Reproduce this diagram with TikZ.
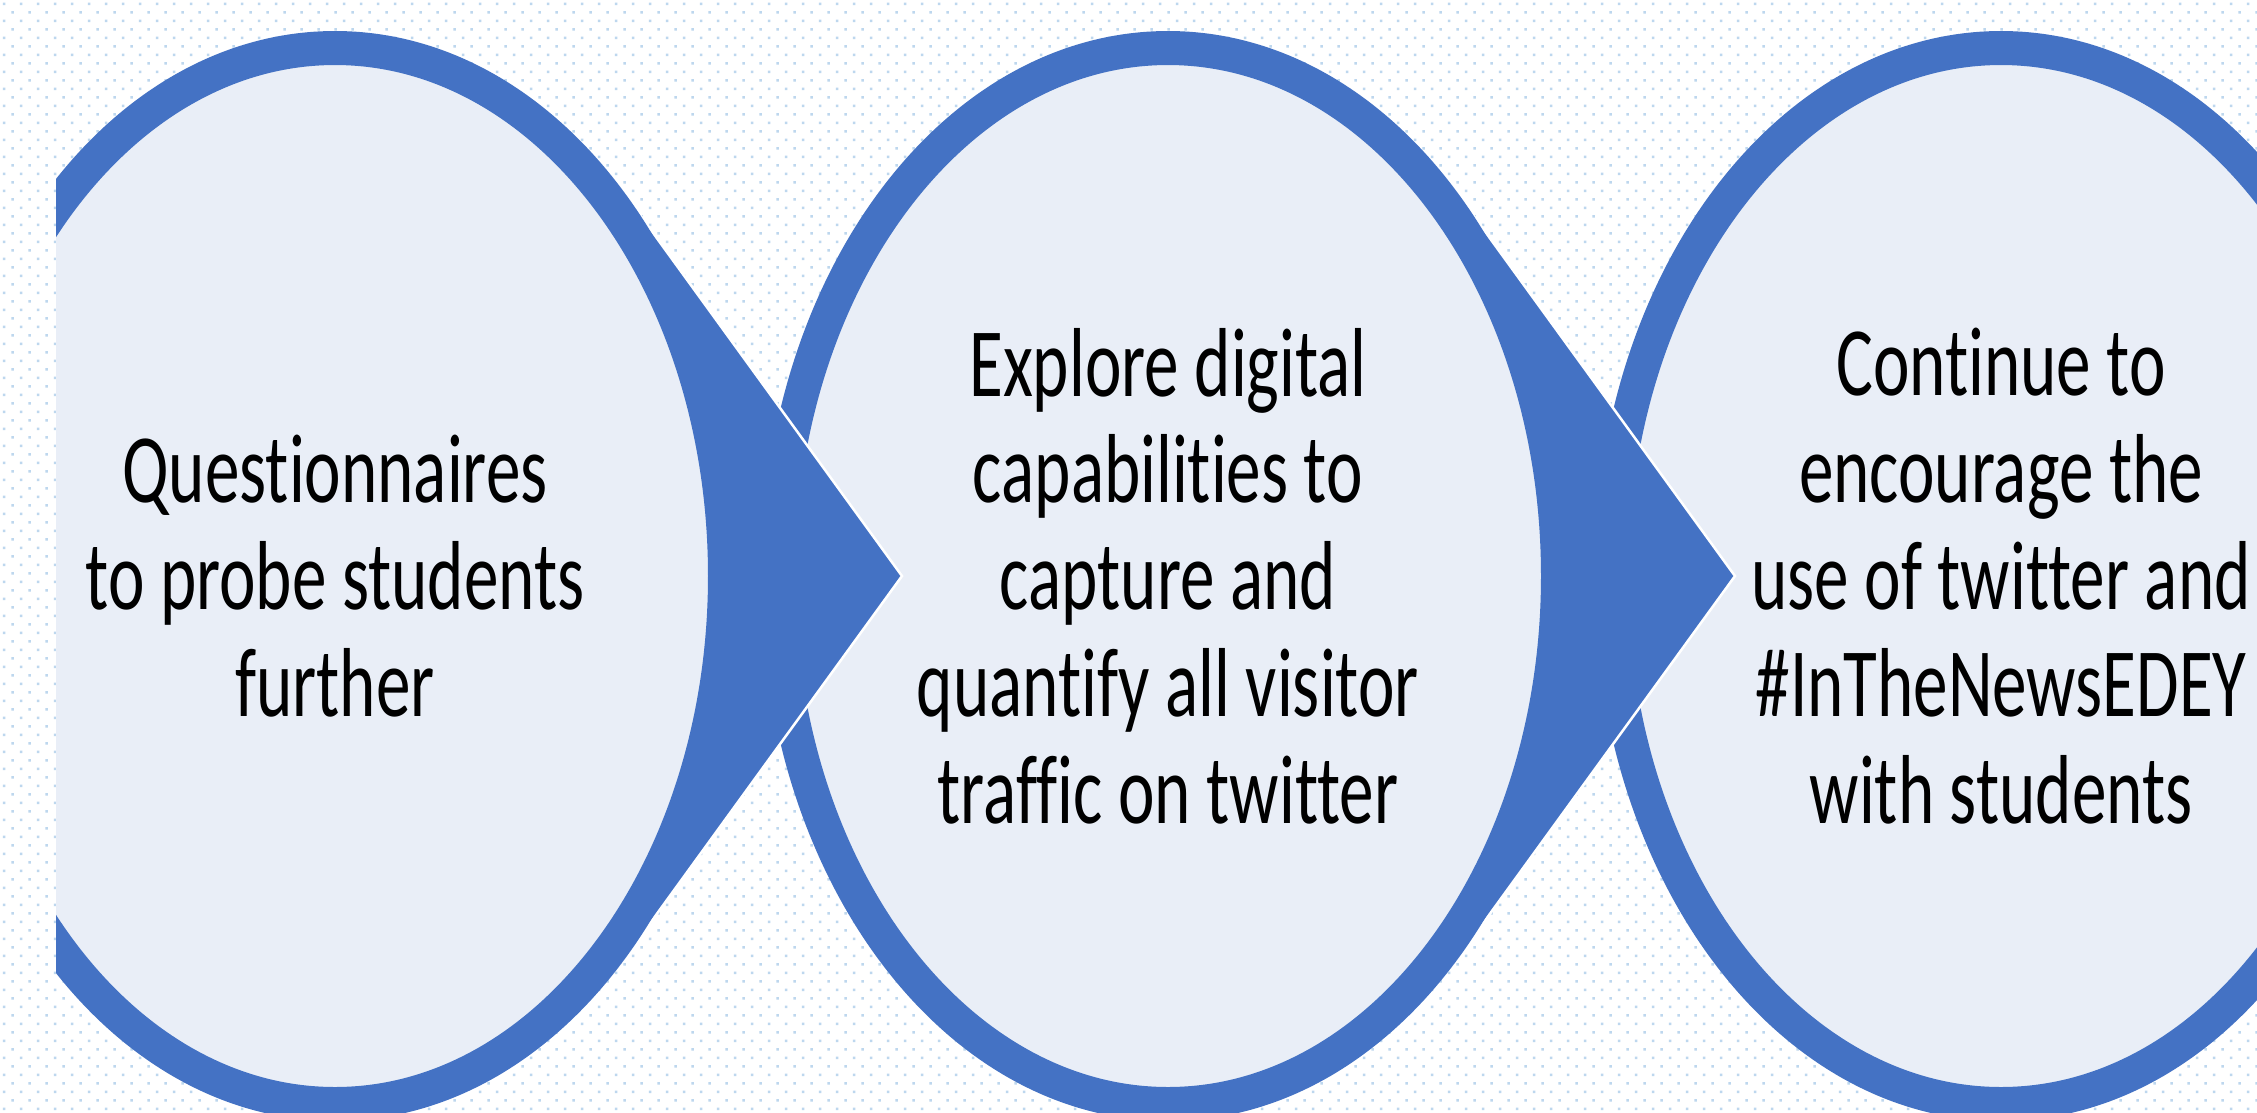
\documentclass[tikz,border=0pt]{standalone}
\usepackage{fontspec}
\setmainfont{Carlito}[FakeStretch=0.705, Ligatures=NoCommon]
\usepackage{tikz}
\usetikzlibrary{shapes}
\usetikzlibrary{patterns}
\definecolor{ringblue}{RGB}{68,114,196}
\definecolor{paleblue}{RGB}{233,238,247}
\definecolor{dotblue}{RGB}{189,215,238}
\pgfdeclarepatternformonly{bgdots}{\pgfpointorigin}{\pgfpoint{1.7mm}{1.7mm}}{\pgfpoint{1.7mm}{1.7mm}}{%
  \pgfpathrectangle{\pgfpoint{0.3mm}{0.3mm}}{\pgfpoint{0.25mm}{0.25mm}}%
  \pgfpathrectangle{\pgfpoint{1.15mm}{1.15mm}}{\pgfpoint{0.25mm}{0.25mm}}%
  \pgfusepath{fill}}

\begin{document}
\begin{tikzpicture}[x=0.1mm,y=-0.1mm]
  \tikzset{StepStyle/.style = {
    shape         = ellipse,
    draw          = ringblue,
    fill          = paleblue,
    line width    = 3.4mm,
    minimum width = 78mm,
    minimum height= 105.6mm,
    inner sep     = 0pt,
    text          = black,
    align         = center,
    font          = \fontsize{27.9}{30.4}\selectfont
    }
  }
  \tikzset{ArrowStyle/.style = {
    fill          = ringblue,
    draw          = white,
    line width    = 0.25mm,
    line join     = miter
    }
  }

  % background
  \fill[white] (0,0) rectangle (2257,1112);
  \fill[pattern=bgdots, pattern color=dotblue] (0,0) rectangle (2257,1112);
  \useasboundingbox (0,0) rectangle (2257,1112);

  \coordinate (C1) at (335,576);
  \coordinate (C2) at (1168,576);
  \coordinate (C3) at (2001,576);

  \begin{scope}
    \clip (56,0) rectangle (2257,1112);
    \fill[ArrowStyle] (C3) ++(567,0) -- ++(-275,-379) -- ++(0,758) -- cycle;
    \node[StepStyle](S3) at (C3) {Continue to\\encourage the\\use of twitter and\\\#InTheNewsEDEY\\with students};
    \fill[ArrowStyle] (C2) ++(567,0) -- ++(-275,-379) -- ++(0,758) -- cycle;
    \node[StepStyle](S2) at (C2) {Explore digital\\capabilities to\\capture and\\quantify all visitor\\traffic on twitter};
    \fill[ArrowStyle] (C1) ++(567,0) -- ++(-275,-379) -- ++(0,758) -- cycle;
    \node[StepStyle](S1) at (C1) {Questionnaires\\to probe students\\further};
  \end{scope}
\end{tikzpicture}
\end{document}
